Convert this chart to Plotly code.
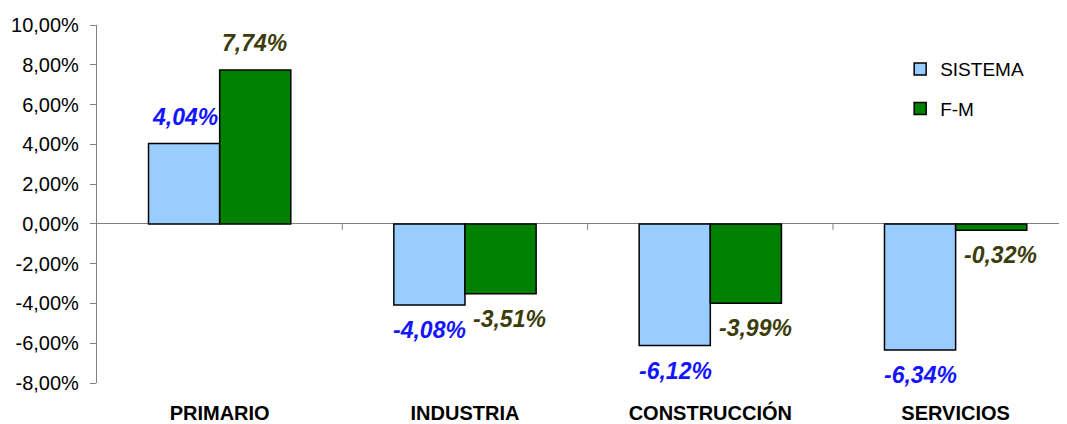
import plotly.graph_objects as go

categories = ["PRIMARIO", "INDUSTRIA", "CONSTRUCCIÓN", "SERVICIOS"]
sistema = [4.04, -4.08, -6.12, -6.34]
fm = [7.74, -3.51, -3.99, -0.32]
series_names = ["SISTEMA", "F-M"]
tick_vals = [-8, -6, -4, -2, 0, 2, 4, 6, 8, 10]
tick_text = ["-8,00%", "-6,00%", "-4,00%", "-2,00%", "0,00%", "2,00%", "4,00%", "6,00%", "8,00%", "10,00%"]

FONT = "Liberation Sans, Arial, sans-serif"
colors = ["#99CCFF", "#008000"]
label_colors = ["#1414FF", "#3C3C0A"]

def fmt(v):
    return f"{v:.2f}".replace(".", ",") + "%"

fig = go.Figure()
for name, vals, col, grp in zip(series_names, [sistema, fm], colors, ["a", "b"]):
    fig.add_trace(go.Bar(
        x=categories, y=vals, name=name, legendgroup=grp,
        marker=dict(color=col, line=dict(color="black", width=1.5)),
        hoverinfo="skip",
    ))

annotations = []
for si, (vals, lc) in enumerate(zip([sistema, fm], label_colors)):
    for cat, v in zip(categories, vals):
        xs = -35 if si == 0 else 35
        if si == 1 and v < 0:
            xs += 10
        annotations.append(dict(
            x=cat, y=v, xref="x", yref="y",
            text="<b><i>" + fmt(v) + "</i></b>", showarrow=False,
            xshift=xs, yshift=27 if v >= 0 else -25,
            font=dict(family=FONT, size=23, color=lc),
            xanchor="center", yanchor="middle",
        ))

shapes = [dict(type="line", xref="x", yref="y", x0=b, x1=b, y0=0, y1=-0.3,
               line=dict(color="#808080", width=1)) for b in [0.5, 1.5, 2.5]]

fig.update_layout(
    width=1059, height=416,
    margin=dict(l=89, r=0, t=17, b=39),
    paper_bgcolor="white", plot_bgcolor="white",
    barmode="group", bargap=0.42, bargroupgap=0,
    font=dict(family=FONT, color="black"),
    showlegend=True,
    legend=dict(x=0.828, y=0.93, xanchor="left", yanchor="top",
                font=dict(family=FONT, size=19, color="black"),
                bgcolor="rgba(0,0,0,0)", tracegroupgap=12, traceorder="grouped"),
    annotations=annotations,
    shapes=shapes,
)
fig.update_xaxes(
    range=[-0.5, 3.454], showline=False, ticks="", showgrid=False, zeroline=False,
    tickfont=dict(family=FONT, size=20, color="black"),
    tickvals=categories, ticktext=["<b>" + c + "</b>" for c in categories],
    ticklabelstandoff=16,
)
fig.update_yaxes(
    range=[-8, 10], tickvals=tick_vals, ticktext=tick_text,
    showline=True, linecolor="#808080", linewidth=1.2,
    ticks="outside", ticklen=6, tickcolor="#808080",
    showgrid=False, zeroline=True, zerolinecolor="#808080", zerolinewidth=1.2,
    tickfont=dict(family=FONT, size=20, color="black"),
    ticklabelstandoff=7,
)
fig.write_html("out.html")
